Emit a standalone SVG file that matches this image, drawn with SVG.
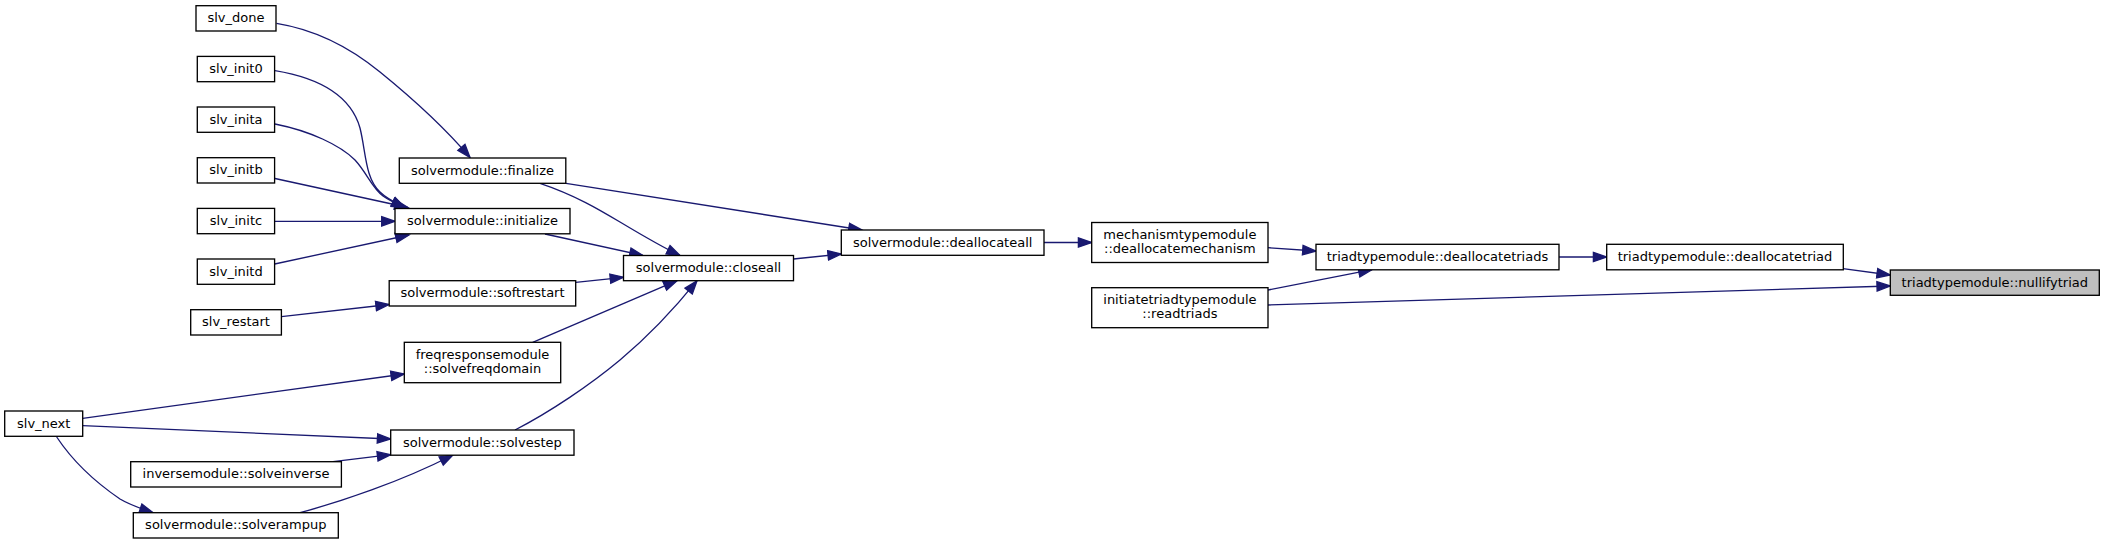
<svg xmlns="http://www.w3.org/2000/svg" width="2104" height="544" viewBox="0 0 2104 544">
<style>
.n rect{fill:#ffffff;stroke:#000000;stroke-width:1.33}
.n.h rect{fill:#bfbfbf}
.n text{font-family:"DejaVu Sans","Liberation Sans",sans-serif;font-size:13px;fill:#000000;text-anchor:middle}
.e path{fill:none;stroke:#191970;stroke-width:1.33;marker-end:url(#ah)}
</style>
<defs>
<marker id="ah" markerUnits="userSpaceOnUse" viewBox="-1 -6 16 12" markerWidth="16" markerHeight="12" refX="13.3" refY="0" orient="auto">
<path d="M0,-4.67 L13.3,0 L0,4.67 Z" fill="#191970" stroke="#191970" stroke-width="1.33"/>
</marker>
</defs>
<rect width="2104" height="544" fill="#ffffff"/>
<g id="edges" class="e">
<path d="M276.5,23.3 C318,30 352,49 380,72 C412,98 445,128 470,157.5"/>
<path d="M275,70.7 C325,79 352,100 360,128 C366,152 365,178 380,192 C387,199 396,203 405,207.5"/>
<path d="M275,124 C310,131 340,145 355,160 C367,173 372,188 383,196 C390,201 397,204 405,207.5"/>
<path d="M275,178.5 L408,207.5"/>
<path d="M274.7,221.3 L395,221.3"/>
<path d="M274.7,264 L409,235"/>
<path d="M281.4,316.7 L389.2,304.5"/>
<path d="M82.7,418.3 L404.3,374"/>
<path d="M82.7,425.7 L390.7,439"/>
<path d="M56.7,437 C72,460 95,482 120,499 C130,505 142,509 153,512.7"/>
<path d="M333,461.7 L390.7,454.7"/>
<path d="M300,512.7 C340,502 400,482 453,455"/>
<path d="M540,183.3 C575,195 600,210 620,222 C640,234 660,246 680,255.5"/>
<path d="M566,183.3 L862,230"/>
<path d="M545,234 L643,255.5"/>
<path d="M575.7,282.3 L623.5,277.3"/>
<path d="M532.7,342.3 L677,280.7"/>
<path d="M515,430 C550,412 590,385 620,360 C650,335 675,308 697,280.7"/>
<path d="M793.5,259 L841.3,254"/>
<path d="M1044,242.5 L1091.7,242.5"/>
<path d="M1268,247.7 L1316,251"/>
<path d="M1268,290 L1372,269.7"/>
<path d="M1559,257 L1606.7,257"/>
<path d="M1843,268.7 L1890.3,275"/>
<path d="M1268,305 L1890.3,286"/>
</g>
<g id="slv_done" class="n"><rect x="196" y="5.7" width="80" height="25.3"/><text x="236" y="22.4">slv_done</text></g>
<g id="slv_init0" class="n"><rect x="197.3" y="56.4" width="77.3" height="25.3"/><text x="236" y="73.1">slv_init0</text></g>
<g id="slv_inita" class="n"><rect x="197.3" y="107" width="77.3" height="25.3"/><text x="236" y="123.7">slv_inita</text></g>
<g id="slv_initb" class="n"><rect x="197.3" y="157.7" width="77.3" height="25.3"/><text x="236" y="174.4">slv_initb</text></g>
<g id="slv_initc" class="n"><rect x="197.3" y="208.4" width="77.3" height="25.3"/><text x="236" y="225.1">slv_initc</text></g>
<g id="slv_initd" class="n"><rect x="197.3" y="259" width="77.3" height="25.3"/><text x="236" y="275.7">slv_initd</text></g>
<g id="slv_restart" class="n"><rect x="190.7" y="309.7" width="90.7" height="25.3"/><text x="236" y="326.4">slv_restart</text></g>
<g id="slv_next" class="n"><rect x="4.7" y="411" width="78" height="25.3"/><text x="43.7" y="427.7">slv_next</text></g>
<g id="solveinverse" class="n"><rect x="130.7" y="461.7" width="210.7" height="25.3"/><text x="236" y="478.4">inversemodule::solveinverse</text></g>
<g id="solverampup" class="n"><rect x="133.3" y="512.7" width="205" height="25.3"/><text x="235.8" y="529.4">solvermodule::solverampup</text></g>
<g id="finalize" class="n"><rect x="399.3" y="158" width="166.5" height="25.3"/><text x="482.5" y="174.7">solvermodule::finalize</text></g>
<g id="initialize" class="n"><rect x="395" y="208.5" width="175" height="25.3"/><text x="482.5" y="225.2">solvermodule::initialize</text></g>
<g id="softrestart" class="n"><rect x="389.2" y="280.7" width="186.5" height="25.3"/><text x="482.5" y="297.4">solvermodule::softrestart</text></g>
<g id="solvefreqdomain" class="n"><rect x="404.3" y="342.3" width="156.4" height="40.4"/><text x="482.5" y="358.8">freqresponsemodule</text><text x="482.5" y="372.8">::solvefreqdomain</text></g>
<g id="solvestep" class="n"><rect x="390.7" y="430" width="183.3" height="25.2"/><text x="482.4" y="446.6">solvermodule::solvestep</text></g>
<g id="closeall" class="n"><rect x="623.5" y="255.5" width="170" height="25.2"/><text x="708.5" y="272.1">solvermodule::closeall</text></g>
<g id="deallocateall" class="n"><rect x="841.3" y="230" width="202.7" height="25.3"/><text x="942.7" y="246.7">solvermodule::deallocateall</text></g>
<g id="deallocatemechanism" class="n"><rect x="1091.7" y="222.5" width="176.3" height="40"/><text x="1179.9" y="238.8">mechanismtypemodule</text><text x="1179.9" y="252.8">::deallocatemechanism</text></g>
<g id="readtriads" class="n"><rect x="1091.7" y="287.7" width="176.3" height="40"/><text x="1179.9" y="304">initiatetriadtypemodule</text><text x="1179.9" y="318">::readtriads</text></g>
<g id="deallocatetriads" class="n"><rect x="1316" y="244.3" width="243" height="25.5"/><text x="1437.5" y="261.1">triadtypemodule::deallocatetriads</text></g>
<g id="deallocatetriad" class="n"><rect x="1606.7" y="244.3" width="236.6" height="25.5"/><text x="1725" y="261.1">triadtypemodule::deallocatetriad</text></g>
<g id="nullifytriad" class="n h"><rect x="1890.3" y="270" width="209" height="25.3"/><text x="1994.8" y="286.7">triadtypemodule::nullifytriad</text></g>
</svg>
